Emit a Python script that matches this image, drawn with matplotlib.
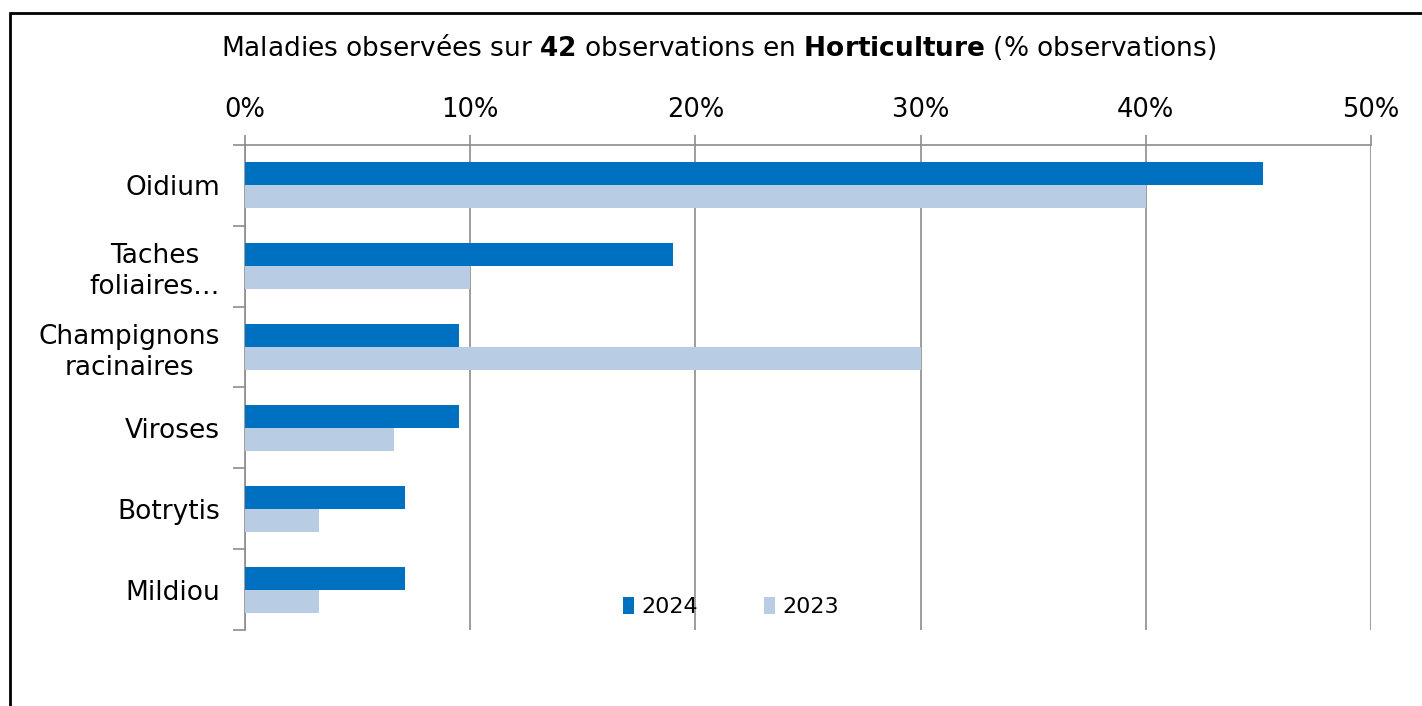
import matplotlib.pyplot as plt
import numpy as np
from matplotlib.patches import Rectangle

categories = ["Oidium", "Taches\nfoliaires…", "Champignons\nracinaires", "Viroses", "Botrytis", "Mildiou"]
vals_2024 = [45.2, 19.0, 9.5, 9.5, 7.1, 7.1]
vals_2023 = [40.0, 10.0, 30.0, 6.6, 3.3, 3.3]
xticks = [0, 10, 20, 30, 40, 50]

c2024 = "#0070C0"
c2023 = "#B8CCE4"
gris = "#8C8C8C"

plt.rcParams["font.family"] = "DejaVu Sans"
plt.rcParams["mathtext.fontset"] = "dejavusans"

fig = plt.figure(figsize=(14.22, 7.06), dpi=100)
ax = fig.add_axes([245/1422, 1-630/706, (1371-245)/1422, (630-145)/706])

y = np.arange(len(categories))
h = 0.285
ax.barh(y - h/2, vals_2024, height=h, color=c2024, label="2024", zorder=3)
ax.barh(y + h/2, vals_2023, height=h, color=c2023, label="2023", zorder=3)

ax.set_xlim(0, 50)
ax.set_ylim(len(categories) - 0.5, -0.5)
ax.xaxis.tick_top()
ax.set_xticks(xticks)
ax.set_xticklabels([f"{v}%" for v in xticks], fontsize=18.5)
ax.tick_params(axis="x", colors=gris, labelcolor="black", length=7, width=1.2, pad=9)
ax.grid(axis="x", color=gris, linewidth=1.2, zorder=0)

ax.set_yticks(np.arange(-0.5, len(categories), 1))
ax.set_yticklabels([])
ax.set_yticks(y, minor=True)
ax.set_yticklabels(categories, minor=True, fontsize=19, multialignment="center",
                   linespacing=1.25)
ax.tick_params(axis="y", which="major", colors=gris, length=9, width=1.2)
ax.tick_params(axis="y", which="minor", length=0, pad=18)

for s in ["right", "bottom"]:
    ax.spines[s].set_visible(False)
for s in ["left", "top"]:
    ax.spines[s].set_color(gris)
    ax.spines[s].set_linewidth(1.2)

fig.text(719/1422, 1-47/706,
         r"Maladies observées sur $\mathbf{42}$ observations en $\mathbf{Horticulture}$ (% observations)",
         ha="center", va="center", fontsize=19)

fig.legend(loc="center", bbox_to_anchor=(731/1422, 1-607/706), ncol=2, frameon=False,
           fontsize=16, handlelength=0.5, handleheight=0.8, handletextpad=0.3,
           columnspacing=3.0)

fig.patches.append(Rectangle((10/1422, -0.05), 1.1, 1-13/706+0.05, transform=fig.transFigure,
                             fill=False, edgecolor="black", linewidth=2, zorder=10))

plt.savefig("out.png", dpi=100)
